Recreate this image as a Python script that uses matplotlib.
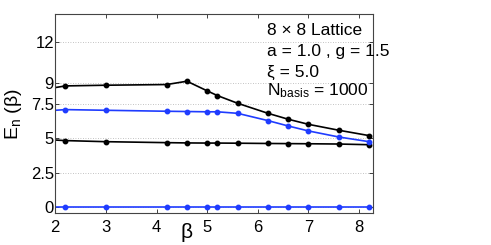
import matplotlib
matplotlib.use("Agg")
import matplotlib.pyplot as plt
from matplotlib import font_manager as fm

names = {f.name for f in fm.fontManager.ttflist}
fam = [n for n in ["Liberation Sans Narrow", "DejaVu Sans Condensed", "Liberation Sans", "DejaVu Sans"] if n in names]
plt.rcParams['font.family'] = fam
plt.rcParams['mathtext.fontset'] = 'custom'
plt.rcParams['mathtext.rm'] = fam[0]
plt.rcParams['mathtext.it'] = fam[0]

beta = [1.8, 2.2, 3.0, 4.2, 4.6, 5.0, 5.2, 5.6, 6.2, 6.6, 7.0, 7.6, 8.2]
E0 = [0, 0, 0, 0, 0, 0, 0, 0, 0, 0, 0, 0, 0]
E1 = [4.91, 4.83, 4.75, 4.68, 4.66, 4.65, 4.65, 4.64, 4.62, 4.61, 4.60, 4.58, 4.53]
E2 = [6.98, 7.08, 7.03, 6.96, 6.94, 6.92, 6.92, 6.81, 6.28, 5.89, 5.53, 5.09, 4.75]
E3 = [8.56, 8.80, 8.85, 8.90, 9.14, 8.44, 8.10, 7.54, 6.81, 6.38, 6.01, 5.58, 5.19]
xticks = [2, 3, 4, 5, 6, 7, 8]
yticks = [0, 2.5, 5, 7.5, 9, 12]
ytick_labels = ["0", "2.5", "5", "7.5", "9", "12"]
info = ["8 \u00d7 8 Lattice", "a = 1.0 , g = 1.5", "\u03be = 5.0", "N$_{\\mathrm{basis}}$ = 1000"]

W, H = 491, 245
fig = plt.figure(figsize=(W / 100, H / 100), dpi=100)
ax = fig.add_axes([55.3 / W, 1 - 213.3 / H, (373.3 - 55.3) / W, (213.3 - 14.3) / H])

blue = '#1f3cff'
kw = dict(marker='o', markersize=3.2, linewidth=1.2, clip_on=True)
ax.plot(beta, E0, color=blue, **kw)
ax.plot(beta, E1, color='black', **kw)
ax.plot(beta, E3, color='black', **kw)
ax.plot(beta, E2, color=blue, **kw)

ax.set_xlim(2, 8.28)
ax.set_ylim(-0.45, 14)
ax.set_xticks(xticks)
ax.set_yticks(yticks)
ax.set_yticklabels(ytick_labels)
ax.yaxis.grid(True, linestyle=(0, (1, 2)), color='#b0b0b0', linewidth=0.6)
ax.set_axisbelow(True)
ax.tick_params(direction='in', top=True, right=True, length=3, width=0.6,
               labelsize=12, colors='#222222', labelcolor='black')
ax.tick_params(axis='y', pad=1)
ax.tick_params(axis='x', pad=5)
for s in ax.spines.values():
    s.set_linewidth(0.8)
    s.set_color('#444444')

ax.set_xlabel("\u03b2", fontsize=15)
ax.xaxis.set_label_coords((187 - 55.3) / 318, -19 / 199)
ax.xaxis.label.set_va('center')
ax.set_ylabel("E$_{\\mathrm{n}}$ (\u03b2)", fontsize=14)
ax.yaxis.set_label_coords(-(55.3 - 24) / 318, 0.5)

baselines = [35, 56, 77, 95]
for t, b in zip(info, baselines):
    fig.text(267 / W, 1 - b / H, t, fontsize=12.5, va='baseline', ha='left')

fig.savefig("out.png", dpi=100)
